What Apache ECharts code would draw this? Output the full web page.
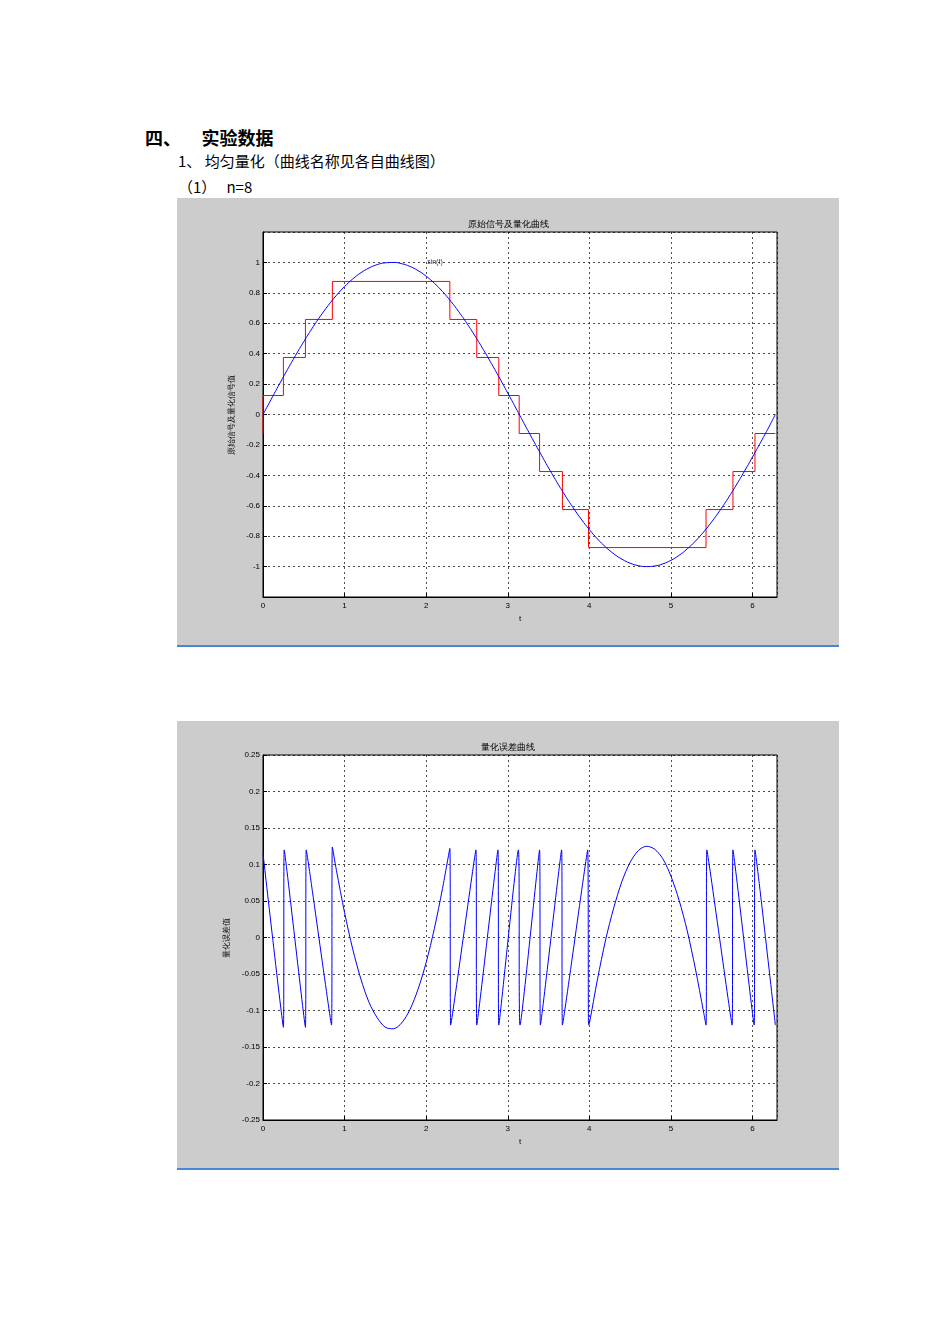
<!DOCTYPE html>
<html>
<head>
<meta charset="utf-8">
<script src="https://cdn.jsdelivr.net/npm/echarts@6/dist/echarts.min.js"></script>
<style>
body{margin:0;background:#fff;font-family:"Liberation Serif","Noto Sans CJK SC",serif;}
.t{position:absolute;font-family:"Noto Sans CJK SC",sans-serif;color:#000;}
.fig{position:absolute;left:177px;width:662px;height:447px;background:#cccccc;border-bottom:2px solid #4a86d8;}
</style>
</head>
<body>
<div class="t" style="left:145px;top:124px;font-size:18px;font-weight:bold;">四、&nbsp;&nbsp;&nbsp;&nbsp;&nbsp;实验数据</div>
<div class="t" style="left:178px;top:150px;font-size:15px;">1、 均匀量化（曲线名称见各自曲线图）</div>
<div class="t" style="left:178px;top:176px;font-size:15px;">（1）&nbsp;&nbsp;&nbsp;n=8</div>
<div id="chart1" class="fig" style="top:198px;"></div>
<div id="chart2" class="fig" style="top:721px;"></div>
<script>
// 原始信号 sin(t) 采样点
var sinData = [[0,0],[0.1,0.0998],[0.2,0.1987],[0.3,0.2955],[0.4,0.3894],[0.5,0.4794],[0.6,0.5646],[0.7,0.6442],[0.8,0.7174],[0.9,0.7833],
  [1.0,0.8415],[1.1,0.8912],[1.2,0.9320],[1.3,0.9636],[1.4,0.9854],[1.5,0.9975],[1.6,0.9996],[1.7,0.9917],[1.8,0.9738],[1.9,0.9463],
  [2.0,0.9093],[2.1,0.8632],[2.2,0.8085],[2.3,0.7457],[2.4,0.6755],[2.5,0.5985],[2.6,0.5155],[2.7,0.4274],[2.8,0.3350],[2.9,0.2392],
  [3.0,0.1411],[3.1,0.0416],[3.2,-0.0584],[3.3,-0.1577],[3.4,-0.2555],[3.5,-0.3508],[3.6,-0.4425],[3.7,-0.5298],[3.8,-0.6119],[3.9,-0.6878],
  [4.0,-0.7568],[4.1,-0.8183],[4.2,-0.8716],[4.3,-0.9162],[4.4,-0.9516],[4.5,-0.9775],[4.6,-0.9937],[4.7,-0.9999],[4.8,-0.9962],[4.9,-0.9825],
  [5.0,-0.9589],[5.1,-0.9258],[5.2,-0.8835],[5.3,-0.8323],[5.4,-0.7728],[5.5,-0.7055],[5.6,-0.6313],[5.7,-0.5507],[5.8,-0.4646],[5.9,-0.3739],
  [6.0,-0.2794],[6.1,-0.1822],[6.2,-0.0831],[6.28,0]];
// 量化后阶梯 (起点, 电平)
var quantData = [[0,-0.125],[0,0.125],[0.25,0.375],[0.52,0.625],[0.85,0.875],[2.29,0.625],[2.62,0.375],[2.89,0.125],[3.14,-0.125],
  [3.39,-0.375],[3.67,-0.625],[3.99,-0.875],[5.43,-0.625],[5.76,-0.375],[6.03,-0.125],[6.28,-0.125]];
// 量化误差
var errData = [[0,0.115],[0.25,-0.123],[0.26,0.12],[0.52,-0.123],[0.53,0.12],[0.84,-0.12],[0.85,0.124],
  [0.9,0.092],[1.0,0.034],[1.1,-0.016],[1.2,-0.057],[1.3,-0.089],[1.4,-0.110],[1.5,-0.123],[1.6,-0.125],[1.7,-0.117],
  [1.8,-0.099],[1.9,-0.071],[2.0,-0.034],[2.1,0.012],[2.2,0.067],[2.29,0.122],
  [2.30,-0.12],[2.61,0.12],[2.62,-0.12],[2.88,0.12],[2.89,-0.12],[3.13,0.12],[3.15,-0.12],[3.39,0.12],[3.40,-0.12],
  [3.66,0.12],[3.67,-0.12],[3.98,0.12],[3.99,-0.12],
  [4.0,-0.118],[4.1,-0.057],[4.2,-0.003],[4.3,0.041],[4.4,0.077],[4.5,0.103],[4.6,0.119],[4.7,0.125],[4.8,0.121],
  [4.9,0.108],[5.0,0.084],[5.1,0.051],[5.2,0.009],[5.3,-0.043],[5.4,-0.102],[5.43,-0.12],
  [5.44,0.12],[5.75,-0.12],[5.76,0.12],[6.02,-0.12],[6.03,0.12],[6.28,-0.12]];

function axes(ymin, ymax, yint, hideEnds) {
    var lab = {fontSize: 8, color: '#000', fontFamily: 'Liberation Sans'};
    return {
        xAxis: {
            type: 'value', min: 0, max: 6.3, interval: 1, name: 't', nameLocation: 'middle', nameGap: 14,
            nameTextStyle: {fontSize: 8, color: '#000'},
            axisLine: {onZero: false, lineStyle: {color: '#000'}},
            axisTick: {inside: true, length: 4, lineStyle: {color: '#000'}},
            axisLabel: Object.assign({showMaxLabel: false, margin: 5}, lab),
            splitLine: {show: true, lineStyle: {color: '#000', type: [2, 3], width: 0.7}}
        },
        yAxis: {
            type: 'value', min: ymin, max: ymax, interval: yint,
            axisLine: {show: true, onZero: false, lineStyle: {color: '#000'}},
            axisTick: {inside: true, length: 4, lineStyle: {color: '#000'}},
            axisLabel: Object.assign({showMinLabel: !hideEnds, showMaxLabel: !hideEnds, margin: 3}, lab),
            splitLine: {show: true, lineStyle: {color: '#000', type: [2, 3], width: 0.7}}
        }
    };
}

(function(){
    var myChart = echarts.init(document.getElementById('chart1'));
    var a = axes(-1.2, 1.2, 0.2, true);
    a.yAxis.name = '原始信号及量化信号值';
    a.yAxis.nameLocation = 'middle';
    a.yAxis.nameGap = 24;
    a.yAxis.nameTextStyle = {fontSize: 8, color: '#000'};
    var option = {
        animation: false,
        title: {text: '原始信号及量化曲线', left: 'center', top: 17, textStyle: {fontSize: 9, fontWeight: 'normal', color: '#000'}},
        grid: {left: 86, top: 34, right: 62, bottom: 48, show: true, backgroundColor: '#fff', borderColor: '#000', borderWidth: 1},
        xAxis: a.xAxis,
        yAxis: a.yAxis,
        series: [{
            type: 'line', data: quantData, step: 'end', showSymbol: false,
            lineStyle: {color: '#ff0000', width: 1}
        }, {
            type: 'line', data: sinData, smooth: true, showSymbol: false,
            lineStyle: {color: '#0000ff', width: 1}
        }, {
            type: 'scatter', data: [[2.0, 1.0]], symbolSize: 0,
            label: {show: true, formatter: 'sin(t)', position: 'right', fontSize: 7, color: '#000', offset: [-4, 0]}
        }]
    };
    myChart.setOption(option);
})();

(function(){
    var myChart = echarts.init(document.getElementById('chart2'));
    var a = axes(-0.25, 0.25, 0.05, false);
    a.yAxis.name = '量化误差值';
    a.yAxis.nameLocation = 'middle';
    a.yAxis.nameGap = 30;
    a.yAxis.nameTextStyle = {fontSize: 8, color: '#000'};
    var option = {
        animation: false,
        title: {text: '量化误差曲线', left: 'center', top: 17, textStyle: {fontSize: 9, fontWeight: 'normal', color: '#000'}},
        grid: {left: 86, top: 34, right: 62, bottom: 48, show: true, backgroundColor: '#fff', borderColor: '#000', borderWidth: 1},
        xAxis: a.xAxis,
        yAxis: a.yAxis,
        series: [{
            type: 'line', data: errData, smooth: 0.3, showSymbol: false,
            lineStyle: {color: '#0000ff', width: 1}
        }]
    };
    myChart.setOption(option);
})();
</script>
</body>
</html>
